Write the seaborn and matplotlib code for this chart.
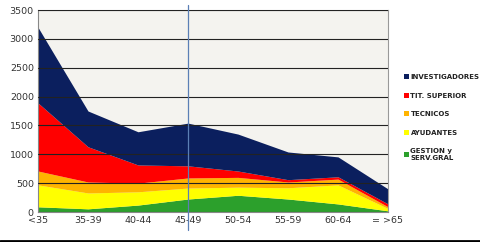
import matplotlib
matplotlib.use("Agg")
import matplotlib.pyplot as plt
import seaborn as sns
import numpy as np
from matplotlib.lines import Line2D
from matplotlib.patches import Patch

categories = ["<35", "35-39", "40-44", "45-49", "50-54", "55-59", "60-64", "= >65"]
gestion = [90, 55, 120, 225, 290, 225, 140, 20]
ayudantes = [380, 275, 230, 190, 140, 195, 330, 40]
tecnicos = [240, 190, 150, 175, 170, 100, 100, 30]
tit_superior = [1180, 610, 315, 210, 110, 40, 40, 50]
investigadores = [1310, 620, 575, 740, 640, 480, 345, 260]

series_names = ["GESTION y\nSERV.GRAL", "AYUDANTES", "TECNICOS", "TIT. SUPERIOR", "INVESTIGADORES"]
colors = ["#2ca02c", "#ffff00", "#ffb400", "#ff0000", "#0b1f5e"]

sns.set_style("white")
plt.rcParams['font.family'] = ['DejaVu Sans']

fig = plt.figure(figsize=(4.81, 2.42), dpi=100)
ax = fig.add_axes([38/481, 1-212/242, 350/481, 202/242])
ax.set_facecolor("#f4f3ef")

x = np.arange(len(categories))
ax.stackplot(x, gestion, ayudantes, tecnicos, tit_superior, investigadores,
             colors=colors, linewidth=0, zorder=2)

ax.set_xlim(0, len(categories) - 1)
ax.set_ylim(0, 3500)
ax.set_yticks(np.arange(0, 3501, 500))
ax.set_xticks(x)
ax.set_xticklabels(categories)
ax.tick_params(axis="both", labelsize=6.8, colors="#333333", length=0, pad=3)
ax.yaxis.grid(True, color="#222222", linewidth=0.8, zorder=3)
ax.set_axisbelow(False)
for s in ["left", "bottom"]:
    ax.spines[s].set_color("#888888")
    ax.spines[s].set_linewidth(0.8)
for s in ["top", "right"]:
    ax.spines[s].set_color("#999999")
    ax.spines[s].set_linewidth(0.8)

ax.axvline(3, ymin=-0.09, ymax=1.025, color="#5b7fb5", linewidth=0.9, clip_on=False, zorder=5)

handles = [Patch(facecolor=c, edgecolor="none") for c in colors][::-1]
labels = series_names[::-1]
leg = fig.legend(handles, labels, loc="upper left", bbox_to_anchor=(398/481, 1-68/242),
                 frameon=False, fontsize=5, handlelength=0.7, handleheight=0.7,
                 handletextpad=0.2, labelspacing=1.8)
for t in leg.get_texts():
    t.set_fontweight("bold")
    t.set_color("#222222")

fig.add_artist(Line2D([0, 1], [1.5/242, 1.5/242], color="black", linewidth=2, transform=fig.transFigure))

fig.savefig("out.png", dpi=100)
